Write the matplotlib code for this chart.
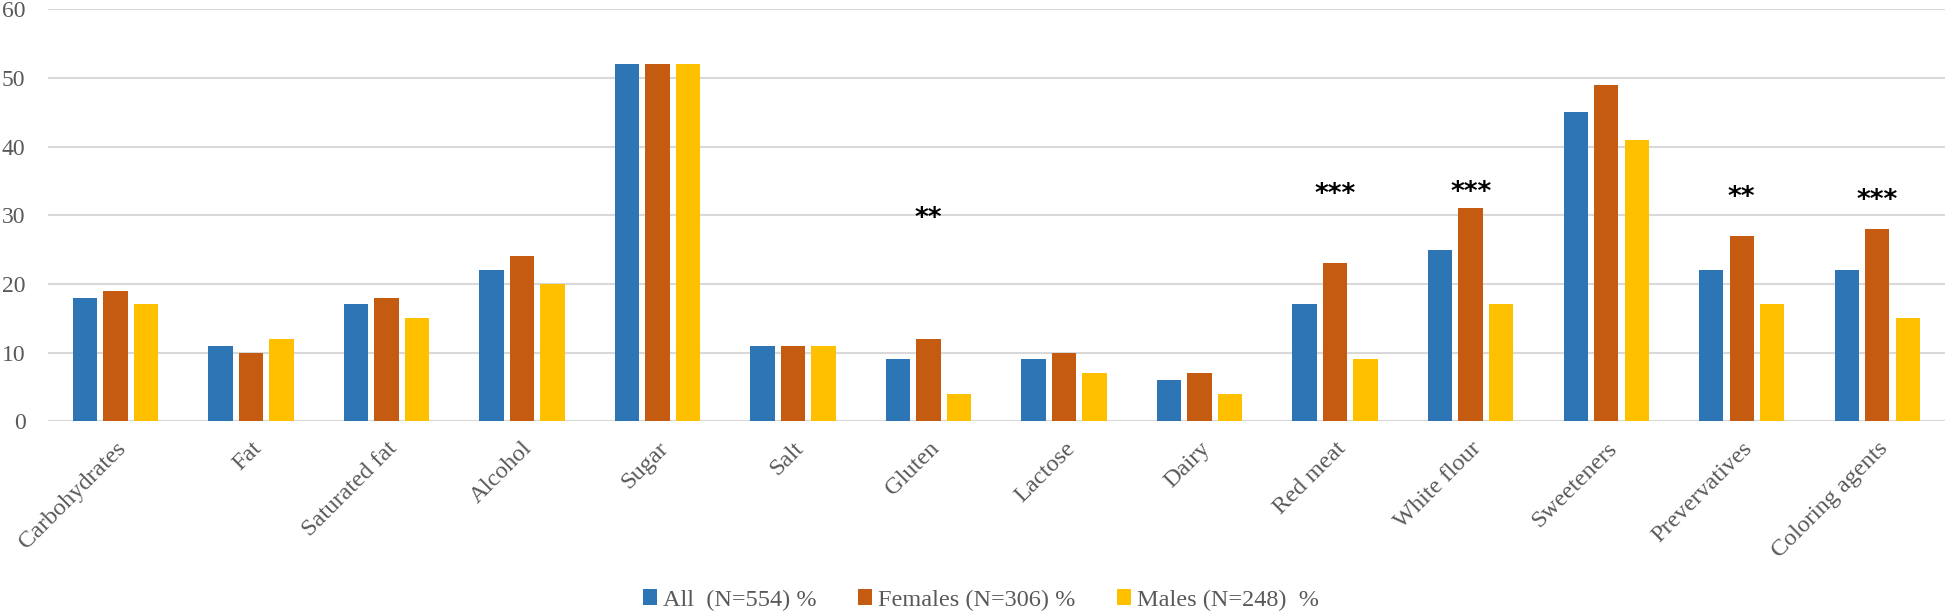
import matplotlib
matplotlib.use("Agg")
import matplotlib.pyplot as plt
import numpy as np

categories = ["Carbohydrates", "Fat", "Saturated fat", "Alcohol", "Sugar", "Salt",
              "Gluten", "Lactose", "Dairy", "Red meat", "White flour", "Sweeteners",
              "Prevervatives", "Coloring agents"]
all_vals = [18, 11, 17, 22, 52, 11, 9, 9, 6, 17, 25, 45, 22, 22]
female_vals = [19, 10, 18, 24, 52, 11, 12, 10, 7, 23, 31, 49, 27, 28]
male_vals = [17, 12, 15, 20, 52, 11, 4, 7, 4, 9, 17, 41, 17, 15]
series_labels = ["All  (N=554) %", "Females (N=306) %", "Males (N=248)  %"]

# significance markers: (category, marker text, height in data units)
sig_cats = ["Gluten", "Red meat", "White flour", "Prevervatives", "Coloring agents"]
sig_text = ["**", "***", "***", "**", "***"]
sig_y = [29.4, 32.9, 33.2, 32.5, 32.0]

colors = ["#2E75B6", "#C55A11", "#FFC000"]

plt.rcParams['font.family'] = ['Liberation Serif', 'DejaVu Serif']

fig = plt.figure(figsize=(19.46, 6.14), dpi=100)
ax = fig.add_axes([0.0245, 0.314, 0.975, 0.671])

x = np.arange(len(categories))
w = 0.18
off = 0.225
for i, (vals, c, lab) in enumerate(zip([all_vals, female_vals, male_vals], colors, series_labels)):
    ax.bar(x + (i - 1) * off, vals, width=w, color=c, label=lab, zorder=3)

for cat, t, yv in zip(sig_cats, sig_text, sig_y):
    ax.text(categories.index(cat), yv, t, ha='center', va='center', fontsize=19,
            fontweight='bold', family='DejaVu Sans', color='black', zorder=4)

ax.set_xlim(-0.5, len(categories) - 0.5)
ax.set_ylim(0, 60)
ax.set_yticks(range(0, 61, 10))
ax.yaxis.grid(True, color='#D9D9D9', linewidth=1.5, zorder=0)
ax.set_axisbelow(True)
for s in ax.spines.values():
    s.set_visible(False)
ax.tick_params(axis='both', length=0, colors='#595959')
ax.tick_params(axis='y', pad=16, labelsize=17)
ax.set_xticks(x)
ax.set_xticklabels(categories, rotation=45, ha='right', rotation_mode='anchor',
                   fontsize=17.5)
ax.tick_params(axis='x', pad=12)

leg = fig.legend(loc='center', bbox_to_anchor=(0.504, 0.0228), ncol=3, frameon=False,
                 fontsize=17.5, handlelength=0.58, handleheight=0.58, handletextpad=0.25,
                 columnspacing=1.7, labelcolor='#595959', borderpad=0)

fig.savefig("out.png", dpi=100)
